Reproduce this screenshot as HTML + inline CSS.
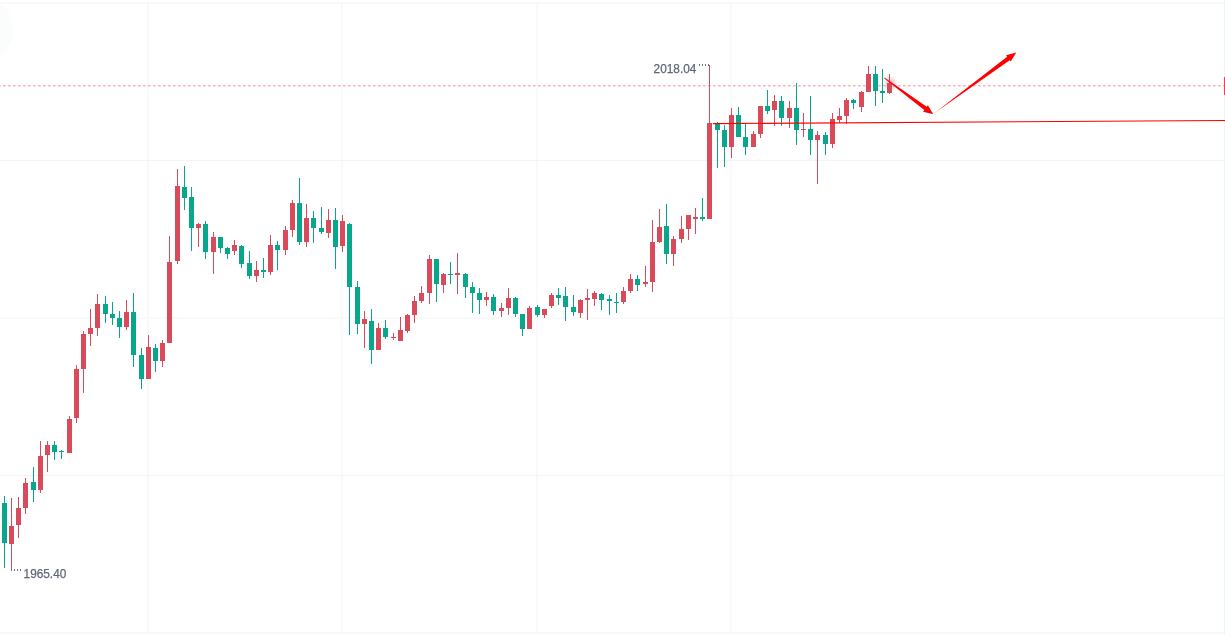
<!DOCTYPE html>
<html><head><meta charset="utf-8"><title>chart</title>
<style>
html,body{margin:0;padding:0;background:#fff;overflow:hidden}
svg{display:block}
text{font-family:"Liberation Sans",sans-serif;fill:#5d6577;stroke:#5d6577;stroke-width:0.25px}
</style></head><body>
<svg width="1225" height="635" viewBox="0 0 1225 635">
<rect x="0" y="0" width="1225" height="635" fill="#ffffff"/>
<defs><radialGradient id="glow"><stop offset="0" stop-color="#e25064" stop-opacity="0.5"/><stop offset="0.55" stop-color="#e25064" stop-opacity="0.22"/><stop offset="1" stop-color="#e25064" stop-opacity="0"/></radialGradient></defs>
<circle cx="-19.5" cy="29.5" r="33" fill="#fbfcfc"/>
<g shape-rendering="crispEdges">
<rect x="147" y="3" width="2" height="630" fill="#f8f9fb"/>
<rect x="341" y="3" width="2" height="630" fill="#f8f9fb"/>
<rect x="536" y="3" width="2" height="630" fill="#f8f9fb"/>
<rect x="730" y="3" width="2" height="630" fill="#f8f9fb"/>
<rect x="0" y="2" width="1225" height="2" fill="#f8f9fb"/>
<rect x="0" y="160" width="1225" height="1" fill="#f1f3f7"/>
<rect x="0" y="317" width="1225" height="2" fill="#f8f9fb"/>
<rect x="0" y="475" width="1225" height="1" fill="#f1f3f7"/>
<rect x="0" y="632" width="1225" height="2" fill="#f8f9fb"/>
<rect x="1224" y="0" width="1" height="635" fill="#f1f2f5"/>
</g>
<line x1="-2" y1="85.7" x2="1225" y2="85.7" stroke="#f1b3bc" stroke-width="1.6" stroke-dasharray="2.6 2.4"/>
<circle cx="890.5" cy="83.5" r="7.5" fill="url(#glow)"/>
<g shape-rendering="crispEdges">
<rect x="4" y="496" width="1" height="72" fill="#08a68b"/>
<rect x="2" y="503" width="5" height="40" fill="#08a68b"/>
<rect x="11" y="498" width="1" height="72" fill="#d94a5a"/>
<rect x="9" y="526" width="5" height="18" fill="#d94a5a"/>
<rect x="18" y="497" width="1" height="41" fill="#d94a5a"/>
<rect x="16" y="508" width="5" height="17" fill="#d94a5a"/>
<rect x="25" y="478" width="1" height="36" fill="#d94a5a"/>
<rect x="23" y="483" width="5" height="25" fill="#d94a5a"/>
<rect x="33" y="467" width="1" height="35" fill="#08a68b"/>
<rect x="31" y="482" width="5" height="8" fill="#08a68b"/>
<rect x="40" y="441" width="1" height="52" fill="#d94a5a"/>
<rect x="38" y="456" width="5" height="34" fill="#d94a5a"/>
<rect x="47" y="441" width="1" height="31" fill="#d94a5a"/>
<rect x="45" y="445" width="5" height="10" fill="#d94a5a"/>
<rect x="54" y="441" width="1" height="19" fill="#08a68b"/>
<rect x="52" y="445" width="5" height="7" fill="#08a68b"/>
<rect x="61" y="450" width="1" height="9" fill="#08a68b"/>
<rect x="59" y="451" width="5" height="1" fill="#08a68b"/>
<rect x="69" y="416" width="1" height="37" fill="#d94a5a"/>
<rect x="67" y="419" width="5" height="34" fill="#d94a5a"/>
<rect x="76" y="365" width="1" height="58" fill="#d94a5a"/>
<rect x="74" y="369" width="5" height="49" fill="#d94a5a"/>
<rect x="83" y="331" width="1" height="62" fill="#d94a5a"/>
<rect x="81" y="334" width="5" height="35" fill="#d94a5a"/>
<rect x="90" y="309" width="1" height="37" fill="#d94a5a"/>
<rect x="88" y="328" width="5" height="6" fill="#d94a5a"/>
<rect x="97" y="294" width="1" height="42" fill="#d94a5a"/>
<rect x="95" y="304" width="5" height="24" fill="#d94a5a"/>
<rect x="105" y="296" width="1" height="27" fill="#08a68b"/>
<rect x="103" y="304" width="5" height="10" fill="#08a68b"/>
<rect x="112" y="302" width="1" height="23" fill="#08a68b"/>
<rect x="110" y="314" width="5" height="4" fill="#08a68b"/>
<rect x="119" y="311" width="1" height="27" fill="#08a68b"/>
<rect x="117" y="318" width="5" height="9" fill="#08a68b"/>
<rect x="126" y="300" width="1" height="30" fill="#d94a5a"/>
<rect x="124" y="312" width="5" height="15" fill="#d94a5a"/>
<rect x="133" y="293" width="1" height="74" fill="#08a68b"/>
<rect x="131" y="312" width="5" height="43" fill="#08a68b"/>
<rect x="141" y="348" width="1" height="41" fill="#08a68b"/>
<rect x="139" y="355" width="5" height="24" fill="#08a68b"/>
<rect x="148" y="335" width="1" height="44" fill="#d94a5a"/>
<rect x="146" y="347" width="5" height="32" fill="#d94a5a"/>
<rect x="155" y="344" width="1" height="28" fill="#08a68b"/>
<rect x="153" y="348" width="5" height="13" fill="#08a68b"/>
<rect x="162" y="340" width="1" height="27" fill="#d94a5a"/>
<rect x="160" y="343" width="5" height="18" fill="#d94a5a"/>
<rect x="169" y="236" width="1" height="107" fill="#d94a5a"/>
<rect x="167" y="262" width="5" height="81" fill="#d94a5a"/>
<rect x="177" y="169" width="1" height="95" fill="#d94a5a"/>
<rect x="175" y="186" width="5" height="75" fill="#d94a5a"/>
<rect x="184" y="166" width="1" height="44" fill="#08a68b"/>
<rect x="182" y="187" width="5" height="11" fill="#08a68b"/>
<rect x="191" y="187" width="1" height="64" fill="#08a68b"/>
<rect x="189" y="197" width="5" height="31" fill="#08a68b"/>
<rect x="198" y="223" width="1" height="24" fill="#d94a5a"/>
<rect x="196" y="224" width="5" height="4" fill="#d94a5a"/>
<rect x="205" y="221" width="1" height="38" fill="#08a68b"/>
<rect x="203" y="224" width="5" height="28" fill="#08a68b"/>
<rect x="213" y="232" width="1" height="42" fill="#d94a5a"/>
<rect x="211" y="237" width="5" height="15" fill="#d94a5a"/>
<rect x="220" y="237" width="1" height="16" fill="#08a68b"/>
<rect x="218" y="237" width="5" height="11" fill="#08a68b"/>
<rect x="227" y="247" width="1" height="12" fill="#08a68b"/>
<rect x="225" y="248" width="5" height="6" fill="#08a68b"/>
<rect x="234" y="240" width="1" height="15" fill="#d94a5a"/>
<rect x="232" y="245" width="5" height="6" fill="#d94a5a"/>
<rect x="241" y="245" width="1" height="23" fill="#08a68b"/>
<rect x="239" y="246" width="5" height="18" fill="#08a68b"/>
<rect x="249" y="251" width="1" height="28" fill="#08a68b"/>
<rect x="247" y="263" width="5" height="13" fill="#08a68b"/>
<rect x="256" y="261" width="1" height="21" fill="#d94a5a"/>
<rect x="254" y="270" width="5" height="6" fill="#d94a5a"/>
<rect x="263" y="258" width="1" height="20" fill="#08a68b"/>
<rect x="261" y="270" width="5" height="2" fill="#08a68b"/>
<rect x="270" y="235" width="1" height="40" fill="#d94a5a"/>
<rect x="268" y="245" width="5" height="27" fill="#d94a5a"/>
<rect x="277" y="241" width="1" height="29" fill="#08a68b"/>
<rect x="275" y="245" width="5" height="5" fill="#08a68b"/>
<rect x="285" y="226" width="1" height="29" fill="#d94a5a"/>
<rect x="283" y="230" width="5" height="20" fill="#d94a5a"/>
<rect x="292" y="200" width="1" height="37" fill="#d94a5a"/>
<rect x="290" y="203" width="5" height="27" fill="#d94a5a"/>
<rect x="299" y="178" width="1" height="67" fill="#08a68b"/>
<rect x="297" y="203" width="5" height="39" fill="#08a68b"/>
<rect x="306" y="204" width="1" height="43" fill="#d94a5a"/>
<rect x="304" y="218" width="5" height="24" fill="#d94a5a"/>
<rect x="313" y="211" width="1" height="32" fill="#08a68b"/>
<rect x="311" y="218" width="5" height="10" fill="#08a68b"/>
<rect x="321" y="207" width="1" height="27" fill="#08a68b"/>
<rect x="319" y="228" width="5" height="4" fill="#08a68b"/>
<rect x="328" y="209" width="1" height="29" fill="#d94a5a"/>
<rect x="326" y="220" width="5" height="13" fill="#d94a5a"/>
<rect x="335" y="208" width="1" height="61" fill="#08a68b"/>
<rect x="333" y="220" width="5" height="27" fill="#08a68b"/>
<rect x="342" y="215" width="1" height="37" fill="#d94a5a"/>
<rect x="340" y="221" width="5" height="25" fill="#d94a5a"/>
<rect x="349" y="223" width="1" height="112" fill="#08a68b"/>
<rect x="347" y="224" width="5" height="63" fill="#08a68b"/>
<rect x="357" y="281" width="1" height="53" fill="#08a68b"/>
<rect x="355" y="287" width="5" height="37" fill="#08a68b"/>
<rect x="364" y="311" width="1" height="37" fill="#d94a5a"/>
<rect x="362" y="319" width="5" height="5" fill="#d94a5a"/>
<rect x="371" y="309" width="1" height="55" fill="#08a68b"/>
<rect x="369" y="321" width="5" height="29" fill="#08a68b"/>
<rect x="378" y="323" width="1" height="27" fill="#d94a5a"/>
<rect x="376" y="328" width="5" height="22" fill="#d94a5a"/>
<rect x="385" y="320" width="1" height="19" fill="#08a68b"/>
<rect x="383" y="328" width="5" height="9" fill="#08a68b"/>
<rect x="393" y="333" width="1" height="7" fill="#d94a5a"/>
<rect x="391" y="337" width="5" height="1" fill="#d94a5a"/>
<rect x="400" y="317" width="1" height="24" fill="#d94a5a"/>
<rect x="398" y="330" width="5" height="11" fill="#d94a5a"/>
<rect x="407" y="314" width="1" height="19" fill="#d94a5a"/>
<rect x="405" y="315" width="5" height="16" fill="#d94a5a"/>
<rect x="414" y="296" width="1" height="27" fill="#d94a5a"/>
<rect x="412" y="301" width="5" height="14" fill="#d94a5a"/>
<rect x="421" y="286" width="1" height="17" fill="#d94a5a"/>
<rect x="419" y="293" width="5" height="8" fill="#d94a5a"/>
<rect x="429" y="255" width="1" height="49" fill="#d94a5a"/>
<rect x="427" y="259" width="5" height="34" fill="#d94a5a"/>
<rect x="436" y="259" width="1" height="43" fill="#08a68b"/>
<rect x="434" y="259" width="5" height="25" fill="#08a68b"/>
<rect x="443" y="273" width="1" height="20" fill="#d94a5a"/>
<rect x="441" y="274" width="5" height="11" fill="#d94a5a"/>
<rect x="450" y="262" width="1" height="22" fill="#08a68b"/>
<rect x="448" y="274" width="5" height="1" fill="#08a68b"/>
<rect x="457" y="253" width="1" height="41" fill="#d94a5a"/>
<rect x="455" y="273" width="5" height="2" fill="#d94a5a"/>
<rect x="465" y="273" width="1" height="25" fill="#08a68b"/>
<rect x="463" y="274" width="5" height="13" fill="#08a68b"/>
<rect x="472" y="282" width="1" height="31" fill="#08a68b"/>
<rect x="470" y="287" width="5" height="6" fill="#08a68b"/>
<rect x="479" y="288" width="1" height="26" fill="#08a68b"/>
<rect x="477" y="293" width="5" height="7" fill="#08a68b"/>
<rect x="486" y="292" width="1" height="14" fill="#d94a5a"/>
<rect x="484" y="297" width="5" height="3" fill="#d94a5a"/>
<rect x="493" y="294" width="1" height="21" fill="#08a68b"/>
<rect x="491" y="297" width="5" height="14" fill="#08a68b"/>
<rect x="501" y="303" width="1" height="14" fill="#d94a5a"/>
<rect x="499" y="308" width="5" height="3" fill="#d94a5a"/>
<rect x="508" y="288" width="1" height="27" fill="#d94a5a"/>
<rect x="506" y="298" width="5" height="10" fill="#d94a5a"/>
<rect x="515" y="297" width="1" height="20" fill="#08a68b"/>
<rect x="513" y="298" width="5" height="16" fill="#08a68b"/>
<rect x="522" y="314" width="1" height="22" fill="#08a68b"/>
<rect x="520" y="314" width="5" height="15" fill="#08a68b"/>
<rect x="529" y="306" width="1" height="23" fill="#d94a5a"/>
<rect x="527" y="308" width="5" height="21" fill="#d94a5a"/>
<rect x="537" y="305" width="1" height="12" fill="#08a68b"/>
<rect x="535" y="307" width="5" height="8" fill="#08a68b"/>
<rect x="544" y="309" width="1" height="9" fill="#d94a5a"/>
<rect x="542" y="309" width="5" height="6" fill="#d94a5a"/>
<rect x="551" y="293" width="1" height="15" fill="#d94a5a"/>
<rect x="549" y="295" width="5" height="11" fill="#d94a5a"/>
<rect x="558" y="288" width="1" height="17" fill="#08a68b"/>
<rect x="556" y="295" width="5" height="3" fill="#08a68b"/>
<rect x="565" y="287" width="1" height="34" fill="#08a68b"/>
<rect x="563" y="296" width="5" height="11" fill="#08a68b"/>
<rect x="573" y="295" width="1" height="21" fill="#08a68b"/>
<rect x="571" y="307" width="5" height="5" fill="#08a68b"/>
<rect x="580" y="299" width="1" height="19" fill="#d94a5a"/>
<rect x="578" y="300" width="5" height="13" fill="#d94a5a"/>
<rect x="587" y="289" width="1" height="31" fill="#d94a5a"/>
<rect x="585" y="298" width="5" height="2" fill="#d94a5a"/>
<rect x="594" y="291" width="1" height="15" fill="#d94a5a"/>
<rect x="592" y="293" width="5" height="6" fill="#d94a5a"/>
<rect x="601" y="293" width="1" height="17" fill="#08a68b"/>
<rect x="599" y="294" width="5" height="6" fill="#08a68b"/>
<rect x="609" y="295" width="1" height="20" fill="#08a68b"/>
<rect x="607" y="299" width="5" height="2" fill="#08a68b"/>
<rect x="616" y="293" width="1" height="20" fill="#08a68b"/>
<rect x="614" y="302" width="5" height="1" fill="#08a68b"/>
<rect x="623" y="287" width="1" height="17" fill="#d94a5a"/>
<rect x="621" y="291" width="5" height="11" fill="#d94a5a"/>
<rect x="630" y="274" width="1" height="19" fill="#d94a5a"/>
<rect x="628" y="279" width="5" height="12" fill="#d94a5a"/>
<rect x="637" y="275" width="1" height="16" fill="#08a68b"/>
<rect x="635" y="279" width="5" height="6" fill="#08a68b"/>
<rect x="645" y="266" width="1" height="21" fill="#d94a5a"/>
<rect x="643" y="282" width="5" height="2" fill="#d94a5a"/>
<rect x="652" y="220" width="1" height="72" fill="#d94a5a"/>
<rect x="650" y="242" width="5" height="40" fill="#d94a5a"/>
<rect x="659" y="209" width="1" height="34" fill="#d94a5a"/>
<rect x="657" y="227" width="5" height="15" fill="#d94a5a"/>
<rect x="666" y="204" width="1" height="60" fill="#08a68b"/>
<rect x="664" y="226" width="5" height="28" fill="#08a68b"/>
<rect x="673" y="236" width="1" height="30" fill="#d94a5a"/>
<rect x="671" y="239" width="5" height="15" fill="#d94a5a"/>
<rect x="681" y="216" width="1" height="27" fill="#d94a5a"/>
<rect x="679" y="229" width="5" height="10" fill="#d94a5a"/>
<rect x="688" y="215" width="1" height="25" fill="#d94a5a"/>
<rect x="686" y="215" width="5" height="14" fill="#d94a5a"/>
<rect x="695" y="208" width="1" height="26" fill="#d94a5a"/>
<rect x="693" y="217" width="5" height="2" fill="#d94a5a"/>
<rect x="702" y="198" width="1" height="23" fill="#08a68b"/>
<rect x="700" y="217" width="5" height="2" fill="#08a68b"/>
<rect x="709" y="65" width="1" height="154" fill="#d94a5a"/>
<rect x="707" y="123" width="5" height="96" fill="#d94a5a"/>
<rect x="717" y="122" width="1" height="46" fill="#08a68b"/>
<rect x="715" y="124" width="5" height="6" fill="#08a68b"/>
<rect x="724" y="125" width="1" height="42" fill="#08a68b"/>
<rect x="722" y="130" width="5" height="17" fill="#08a68b"/>
<rect x="731" y="108" width="1" height="50" fill="#d94a5a"/>
<rect x="729" y="115" width="5" height="32" fill="#d94a5a"/>
<rect x="738" y="107" width="1" height="30" fill="#08a68b"/>
<rect x="736" y="115" width="5" height="22" fill="#08a68b"/>
<rect x="745" y="124" width="1" height="31" fill="#08a68b"/>
<rect x="743" y="137" width="5" height="10" fill="#08a68b"/>
<rect x="753" y="131" width="1" height="16" fill="#d94a5a"/>
<rect x="751" y="134" width="5" height="13" fill="#d94a5a"/>
<rect x="760" y="106" width="1" height="32" fill="#d94a5a"/>
<rect x="758" y="106" width="5" height="28" fill="#d94a5a"/>
<rect x="767" y="90" width="1" height="24" fill="#08a68b"/>
<rect x="765" y="106" width="5" height="5" fill="#08a68b"/>
<rect x="774" y="95" width="1" height="31" fill="#d94a5a"/>
<rect x="772" y="101" width="5" height="9" fill="#d94a5a"/>
<rect x="781" y="96" width="1" height="30" fill="#08a68b"/>
<rect x="779" y="101" width="5" height="17" fill="#08a68b"/>
<rect x="789" y="101" width="1" height="27" fill="#d94a5a"/>
<rect x="787" y="108" width="5" height="10" fill="#d94a5a"/>
<rect x="796" y="83" width="1" height="62" fill="#08a68b"/>
<rect x="794" y="108" width="5" height="22" fill="#08a68b"/>
<rect x="803" y="113" width="1" height="24" fill="#d94a5a"/>
<rect x="801" y="129" width="5" height="1" fill="#d94a5a"/>
<rect x="810" y="96" width="1" height="59" fill="#08a68b"/>
<rect x="808" y="129" width="5" height="11" fill="#08a68b"/>
<rect x="817" y="131" width="1" height="53" fill="#d94a5a"/>
<rect x="815" y="135" width="5" height="5" fill="#d94a5a"/>
<rect x="825" y="132" width="1" height="23" fill="#08a68b"/>
<rect x="823" y="135" width="5" height="9" fill="#08a68b"/>
<rect x="832" y="113" width="1" height="35" fill="#d94a5a"/>
<rect x="830" y="119" width="5" height="25" fill="#d94a5a"/>
<rect x="839" y="108" width="1" height="15" fill="#d94a5a"/>
<rect x="837" y="116" width="5" height="4" fill="#d94a5a"/>
<rect x="846" y="98" width="1" height="26" fill="#d94a5a"/>
<rect x="844" y="100" width="5" height="16" fill="#d94a5a"/>
<rect x="853" y="99" width="1" height="10" fill="#08a68b"/>
<rect x="851" y="100" width="5" height="3" fill="#08a68b"/>
<rect x="861" y="91" width="1" height="21" fill="#d94a5a"/>
<rect x="859" y="92" width="5" height="15" fill="#d94a5a"/>
<rect x="868" y="66" width="1" height="26" fill="#d94a5a"/>
<rect x="866" y="74" width="5" height="18" fill="#d94a5a"/>
<rect x="875" y="66" width="1" height="40" fill="#08a68b"/>
<rect x="873" y="74" width="5" height="17" fill="#08a68b"/>
<rect x="882" y="69" width="1" height="34" fill="#08a68b"/>
<rect x="880" y="91" width="5" height="2" fill="#08a68b"/>
<rect x="889" y="74" width="1" height="20" fill="#d94a5a"/>
<rect x="887" y="83" width="5" height="10" fill="#d94a5a"/>
<rect x="1224" y="77" width="1" height="18" fill="#e0465a"/>
<g fill="#6b7385">
<rect x="699" y="64" width="1" height="2"/><rect x="702" y="64" width="1" height="2"/><rect x="705" y="64" width="1" height="2"/><rect x="708" y="64" width="1" height="2"/>
<rect x="11" y="569" width="1" height="2"/><rect x="14" y="569" width="1" height="2"/><rect x="17" y="569" width="1" height="2"/><rect x="20" y="569" width="1" height="2"/>
</g>
</g>
<text x="653.6" y="73" font-size="12.7" textLength="42.8" lengthAdjust="spacingAndGlyphs">2018.04</text>
<text x="23.6" y="578" font-size="12.7" textLength="42.7" lengthAdjust="spacingAndGlyphs">1965.40</text>
<line x1="712.8" y1="123.6" x2="1225" y2="120.5" stroke="#ff0000" stroke-width="1.15"/>
<polygon fill="#ff0000" points="884.51,77.62 926.76,106.74 927.89,105.21 933.30,114.20 923.12,111.64 924.26,110.11 884.09,78.18"/>
<polygon fill="#ff0000" points="935.57,112.26 1007.11,56.66 1006.13,55.33 1016.30,52.60 1010.71,61.52 1009.73,60.20 935.63,112.34"/>
</svg>
</body></html>
